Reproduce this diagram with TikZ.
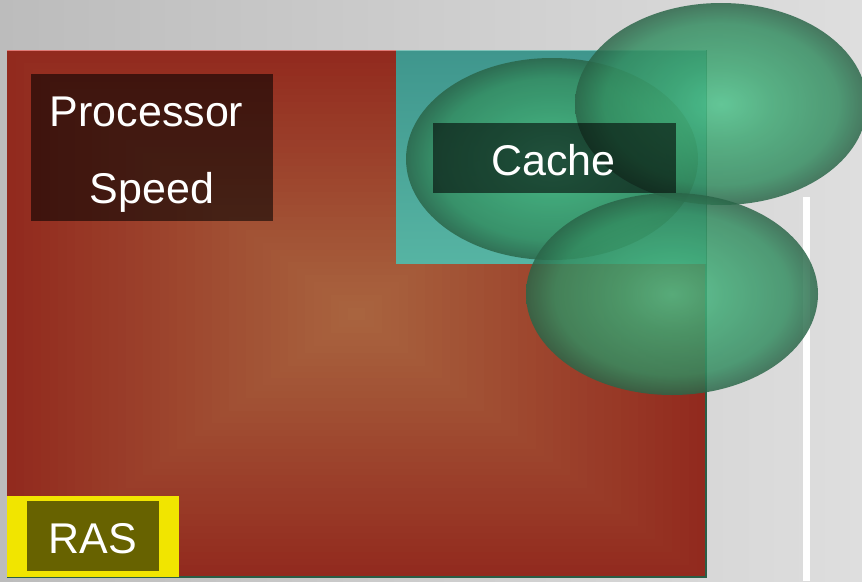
\documentclass[tikz,border=0pt]{standalone}
\usepackage{fontspec}
\setmainfont{Liberation Sans}
\usetikzlibrary{shapes.geometric}
\definecolor{bgL}{HTML}{BCBCBC}
\definecolor{bgM}{HTML}{DCDCDC}
\definecolor{bgR}{HTML}{DEDEDE}
\definecolor{redout}{HTML}{922A1E}
\definecolor{redin}{HTML}{A9643F}
\definecolor{tealtop}{HTML}{3F968D}
\definecolor{tealbot}{HTML}{56B4A3}
\definecolor{pinkedge}{HTML}{E07A76}
\definecolor{tealedge}{HTML}{7FC2B8}
\definecolor{darkgreen}{HTML}{2A5E46}
\definecolor{rasyellow}{HTML}{F1E500}
\definecolor{gA}{HTML}{4DC38B}
\definecolor{gB}{HTML}{3FA874}
\definecolor{gC}{HTML}{348D61}
\definecolor{gD}{HTML}{2A6548}
\pgfdeclareradialshading{ellgreen}{\pgfpoint{0bp}{0bp}}{color(0bp)=(gA); color(9bp)=(gB); color(20bp)=(gC); color(25bp)=(gD); color(50bp)=(gD)}
\tikzset{
  ell/.style={ellipse, draw=none, inner sep=0pt, shading=ellgreen, fill opacity=0.84,
    minimum width=292pt, minimum height=202pt},
  labelbox/.style={rectangle, draw=none, inner sep=0pt, fill=black, fill opacity=0.57},
  labeltext/.style={text=white, font=\fontsize{43}{50}\selectfont, anchor=base, inner sep=0pt}
}
\begin{document}
\begin{tikzpicture}[x=1pt,y=-1pt]
\useasboundingbox (0,0) rectangle (862,581);
% background
\shade[left color=bgL, middle color=bgM, right color=bgR] (0,0) rectangle (862,581);
\fill[white] (803,197) rectangle (810,581);
% red rectangle with pyramid shading
\foreach \i in {0,...,40}{
  \pgfmathsetmacro{\hw}{349.5*(1-\i/41)}
  \pgfmathsetmacro{\hh}{264*(1-\i/41)}
  \pgfmathtruncatemacro{\p}{100*\i/40}
  \fill[redin!\p!redout] (356.5-\hw,314-\hh) rectangle (356.5+\hw,314+\hh);
}
\draw[darkgreen, line width=1.6pt] (7,577) -- (706,577) -- (706,50);
\draw[pinkedge, line width=1.5pt] (7,50.5) -- (396,50.5);
% teal rectangle
\shade[top color=tealtop, bottom color=tealbot] (396,50) rectangle (706,263);
\draw[tealedge, line width=1.2pt] (396,50.5) -- (706,50.5);
% processor speed
\node[labelbox, minimum width=242pt, minimum height=147pt] (proc) at (152,147.5) {};
\node[labeltext] (proct) at (146.5,126) {Processor};
\node[labeltext] (speedt) at (152,203) {Speed};
% RAS
\fill[rasyellow] (7,496) rectangle (179,577);
\node[labelbox, minimum width=132pt, minimum height=70pt] (ras) at (93,536) {};
\node[labeltext] (rast) at (92.5,553) {RAS};
% ellipses
\node[ell] (ellA) at (552,159) {};
\node[ell] (ellB) at (721,104) {};
\node[ell] (ellC) at (672,294) {};
% cache
\node[labelbox, minimum width=243pt, minimum height=70pt] (cache) at (554.5,158) {};
\node[labeltext] (cachet) at (553.5,175) {Cache};
\end{tikzpicture}
\end{document}
